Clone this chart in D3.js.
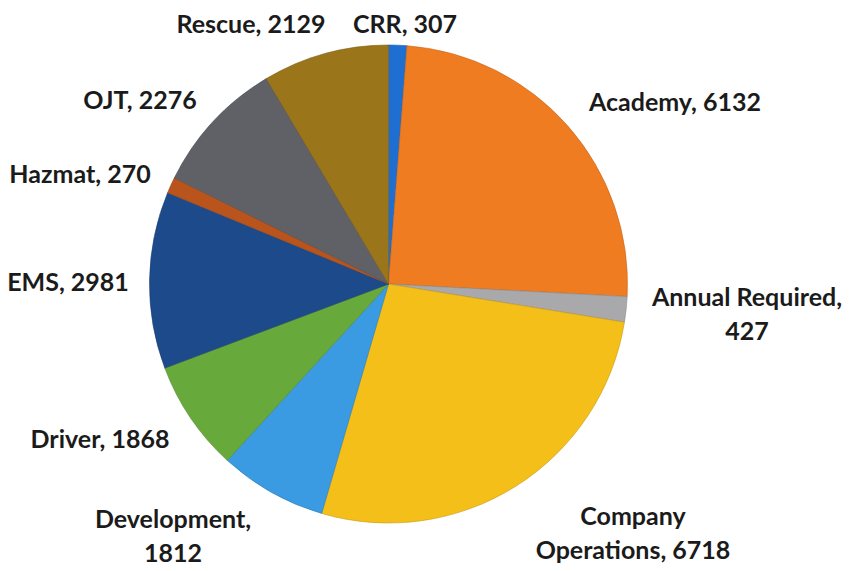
<!DOCTYPE html>
<html>
<head>
<meta charset="utf-8">
<script src="https://cdn.jsdelivr.net/npm/d3@7"></script>
<style>
  body { margin: 0; background: #fff; }
  text { font-family: Lato, "Open Sans", sans-serif; font-weight: bold; fill: #1b1b1b; }
</style>
</head>
<body>
<div id="chart"></div>
<script>
// data
var categories = ["CRR", "Academy", "Annual Required", "Company Operations", "Development",
                  "Driver", "EMS", "Hazmat", "OJT", "Rescue"]
var hours = [307, 6132, 427, 6718, 1812, 1868, 2981, 270, 2276, 2129]
var colors = ["#1f6fd2", "#f07c22", "#a9a9ab", "#f5bf1a", "#3a9be2",
              "#68a93b", "#1d4a8b", "#b9541d", "#5f6167", "#9b7519"]

// label text lines and where they sit (centre x, first baseline y)
var labelLines = [["CRR, 307"], ["Academy, 6132"], ["Annual Required,", "427"],
                  ["Company", "Operations, 6718"], ["Development,", "1812"],
                  ["Driver, 1868"], ["EMS, 2981"], ["Hazmat, 270"], ["OJT, 2276"], ["Rescue, 2129"]]
var labelAt = [[405, 33], [675, 111], [747, 306], [633, 525], [173, 528],
               [100, 448], [68, 291], [80, 183], [140, 109], [251, 33]]

var width = 851, height = 571
var cx = 388.5, cy = 284, radius = 239

var svg = d3.select("#chart").append("svg")
    .attr("width", width)
    .attr("height", height)

var g = svg.append("g")
    .attr("transform", "translate(" + cx + "," + cy + ")")

var pie = d3.pie().sort(null).value(function(d) { return d })
var arc = d3.arc().innerRadius(0).outerRadius(radius)

var color = d3.scaleOrdinal().domain(categories).range(colors)

g.selectAll("path")
  .data(pie(hours))
  .enter().append("path")
    .attr("d", arc)
    .attr("fill", function(d, i) { return color(categories[i]) })
    .attr("stroke", function(d, i) { return d3.color(color(categories[i])).darker(0.6) })
    .attr("stroke-width", 0.6)

var labels = svg.selectAll("text.lbl")
  .data(labelLines)
  .enter().append("text")
    .attr("class", "lbl")
    .attr("text-anchor", "middle")
    .attr("font-size", 25)

labels.selectAll("tspan")
  .data(function(d, i) { return d.map(function(t) { return {t: t, i: i} }) })
  .enter().append("tspan")
    .attr("x", function(d) { return labelAt[d.i][0] })
    .attr("y", function(d, j) { return labelAt[d.i][1] + j * 34 })
    .text(function(d) { return d.t })
</script>
</body>
</html>
